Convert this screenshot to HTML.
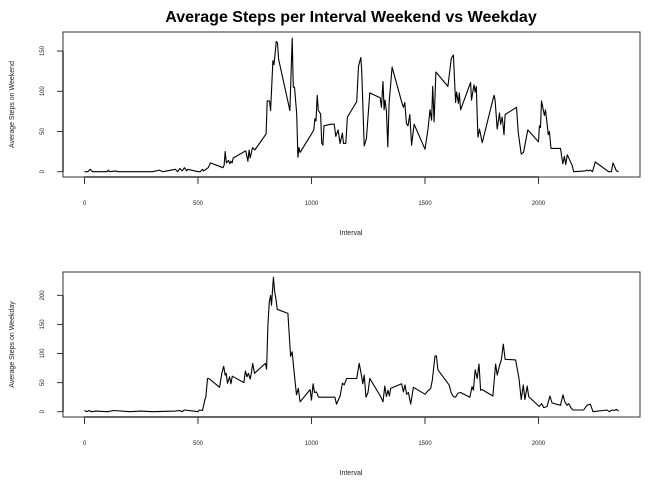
<!DOCTYPE html>
<html><head><meta charset="utf-8"><style>
html,body{margin:0;padding:0;background:#fff;}
svg{display:block;font-family:"Liberation Sans",Arial,sans-serif;}
</style></head><body>
<svg id="chart" width="672" height="480" viewBox="0 0 672 480">
<text x="351" y="22" text-anchor="middle" font-size="16" font-weight="bold">Average Steps per Interval Weekend vs Weekday</text>
</svg>
<script>
const xTicks=[0,500,1000,1500,2000];
const weekendTicks=[0,50,100,150];
const weekdayTicks=[0,50,100,150,200];
const weekendIntervals=[0,15,25,35,100,105,110,140,145,300,330,345,400,410,420,430,440,450,455,500,510,520,525,535,545,555,610,615,620,625,635,640,645,650,655,710,720,725,730,740,750,800,805,815,820,830,835,845,850,855,905,915,920,925,935,940,945,950,1000,1010,1015,1020,1025,1030,1040,1045,1050,1055,1085,1100,1107,1117,1126,1136,1141,1151,1158,1199,1207,1217,1221,1232,1242,1257,1302,1308,1315,1320,1324,1330,1336,1342,1355,1397,1405,1411,1418,1425,1433,1441,1452,1500,1513,1522,1529,1534,1540,1548,1601,1616,1625,1635,1639,1647,1651,1657,1701,1705,1716,1721,1726,1733,1740,1752,1804,1809,1818,1828,1833,1840,1848,1853,1903,1911,1924,1934,1953,2000,2004,2009,2013,2026,2031,2043,2048,2055,2097,2107,2114,2120,2127,2148,2155,2206,2213,2221,2228,2238,2250,2309,2321,2328,2343,2353];
const weekendSteps=[0,0,3,0,0,2,0,1,0,0,2,0,3,0,4,1,5,1,3,0,0,3,1,3,5,11,5,8,25,11,14,10,13,11,17,26,13,27,17,30,27,47,88,88,76,138,133,162,160,140,76,166,105,105,72,18,30,24,47,52,66,63,95,76,72,36,33,57,59,59,44,52,35,48,35,35,68,87,131,142,126,32,41,98,92,80,112,77,89,76,31,85,130,87,80,86,60,57,71,33,59,28,53,77,64,106,62,124,106,141,145,86,99,85,98,77,111,89,108,99,106,43,53,36,95,89,53,73,59,68,46,71,80,48,22,24,52,37,57,55,88,70,77,46,50,29,29,10,19,9,21,8,0,1,2,1,2,0,12,0,0,11,1,0];
const weekdayIntervals=[0,10,20,30,50,100,130,200,250,300,400,420,430,440,500,505,520,530,535,542,548,595,605,613,620,624,630,639,645,651,702,709,716,722,730,735,741,749,797,802,808,814,820,824,832,838,844,849,896,908,915,921,928,934,942,950,994,1000,1007,1013,1022,1031,1085,1103,1110,1126,1136,1144,1155,1199,1210,1220,1226,1232,1240,1249,1257,1305,1315,1323,1330,1337,1343,1349,1397,1405,1412,1419,1427,1437,1449,1500,1513,1525,1532,1544,1550,1557,1606,1616,1625,1635,1645,1657,1698,1707,1713,1721,1730,1738,1745,1752,1799,1811,1818,1828,1836,1845,1853,1899,1914,1924,1933,1940,1950,1957,2003,2014,2023,2038,2050,2060,2097,2108,2116,2126,2133,2144,2152,2199,2213,2228,2240,2302,2312,2324,2334,2343,2353];
const weekdaySteps=[2,0,2,0,1,0,2,0,1,0,1,2,0,3,0,3,2,20,26,57,57,42,66,78,63,66,49,60,48,61,50,70,60,66,56,66,83,66,83,73,149,189,200,183,231,206,192,176,169,95,103,77,50,29,40,17,38,20,48,33,34,25,25,25,13,27,49,46,57,57,83,63,48,63,25,33,57,26,17,44,26,37,27,40,48,34,46,30,33,13,42,30,36,40,54,96,96,72,46,32,26,25,32,33,25,43,37,72,57,82,37,38,27,82,63,79,89,116,90,89,57,21,46,21,44,26,9,14,7,9,27,15,11,29,17,11,14,6,3,3,11,13,0,3,0,3,2,4,1];

const NS='http://www.w3.org/2000/svg';
const svg=document.getElementById('chart');
function mk(tag,attrs,parent){const e=document.createElementNS(NS,tag);for(const k in attrs)e.setAttribute(k,attrs[k]);(parent||svg).appendChild(e);return e;}
const xScale=v=>84.5+v*0.2270;

function panel(cfg){
  const g=mk('g',{});
  
  
  const y=v=>cfg.y0-v*cfg.k;
  const box=mk('rect',{x:63,y:cfg.top,width:577,height:cfg.bot-cfg.top,fill:'none',stroke:'#333','stroke-width':1},g);
  
  
  const xa=mk('line',{x1:xScale(xTicks[0]),x2:xScale(xTicks[xTicks.length-1]),y1:cfg.bot,y2:cfg.bot,stroke:'#333','stroke-width':1.5},g);
  
  
  xTicks.forEach(t=>{
    const l=mk('line',{x1:xScale(t),x2:xScale(t),y1:cfg.bot,y2:cfg.bot+7,stroke:'#333'},g);
    
    
    const tx=mk('text',{x:xScale(t),y:cfg.bot+28,'text-anchor':'middle','font-size':6,fill:'#222'},g);
    
    
    tx.textContent=t;
  });
  const ya=mk('line',{x1:63,x2:63,y1:y(cfg.ticks[0]),y2:y(cfg.ticks[cfg.ticks.length-1]),stroke:'#333','stroke-width':1.5},g);
  
  
  cfg.ticks.forEach(t=>{
    const l=mk('line',{x1:57,x2:63,y1:y(t),y2:y(t),stroke:'#333'},g);
    
    
    const tx=mk('text',{x:44,y:y(t),'text-anchor':'middle','font-size':6,fill:'#222',transform:`rotate(-90 44 ${y(t)})`},g);
    
    
    tx.textContent=t;
  });
  const d=cfg.xs.map((v,i)=>(i?'L':'M')+xScale(v).toFixed(1)+','+y(cfg.ys[i]).toFixed(1)).join('');
  const p=mk('path',{d:d,fill:'none',stroke:'#000','stroke-width':1.1,'stroke-linejoin':'round'},g);
  
  
  const xt=mk('text',{x:351,y:cfg.bot+58,'text-anchor':'middle','font-size':7,fill:'#222'},g);
  
  
  xt.textContent='Interval';
  const cy=(cfg.top+cfg.bot)/2;
  const yt=mk('text',{x:14,y:cy,'text-anchor':'middle','font-size':7,fill:'#222',transform:`rotate(-90 14 ${cy})`},g);
  
  
  yt.textContent=cfg.ytitle;
}
panel({name:'weekend-panel',top:32,bot:177,y0:171.7,k:0.8044,ticks:weekendTicks,xs:weekendIntervals,ys:weekendSteps,ytitle:'Average Steps on Weekend'});
panel({name:'weekday-panel',top:272,bot:417,y0:411.7,k:0.5817,ticks:weekdayTicks,xs:weekdayIntervals,ys:weekdaySteps,ytitle:'Average Steps on Weekday'});
</script>
</body></html>
